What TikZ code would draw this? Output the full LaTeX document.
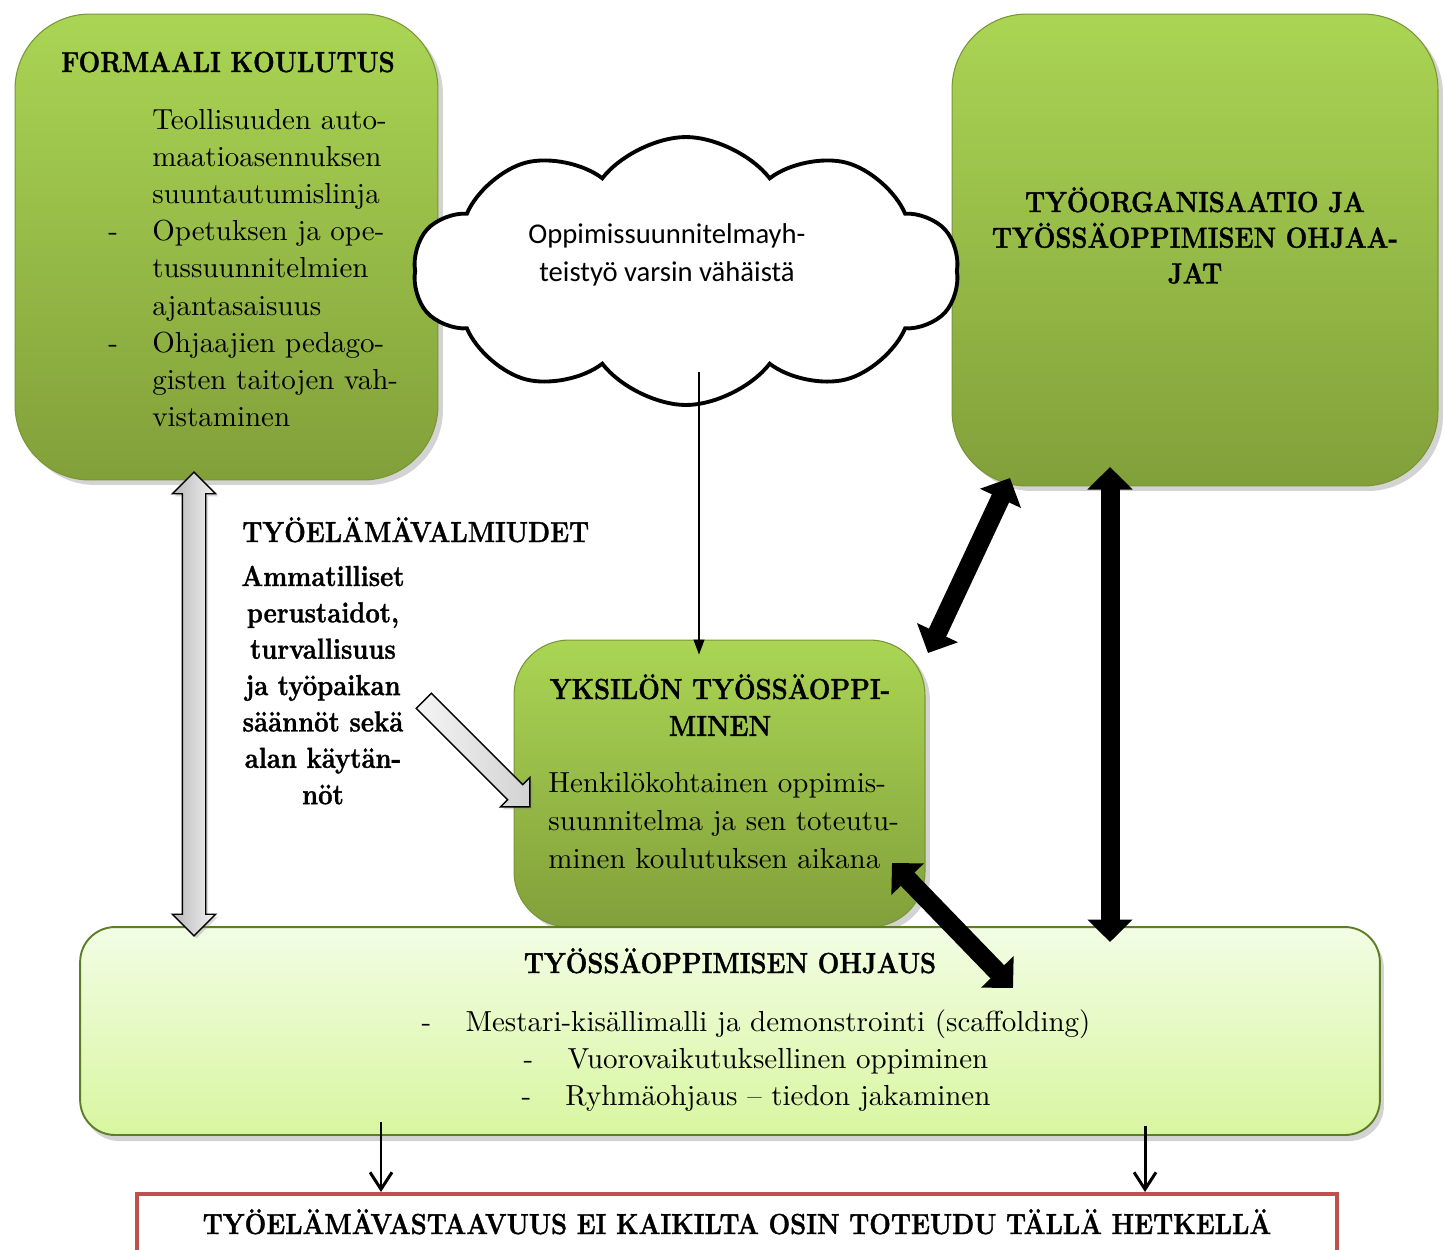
\documentclass[tikz,border=0pt]{standalone}
\usepackage{fontspec}
\setmainfont{lmroman10-regular.otf}[BoldFont=lmroman12-bold.otf, BoldFeatures={FakeStretch=0.885, FakeBold=1.2}]
\newfontfamily\cloudfont{Carlito}
\usetikzlibrary{arrows.meta,shapes.symbols,shapes.arrows,shadows,positioning}

\definecolor{boxtop}{RGB}{170,213,84}
\definecolor{boxbot}{RGB}{130,160,58}
\definecolor{boxline}{RGB}{120,150,52}
\definecolor{paletop}{RGB}{242,253,228}
\definecolor{palebot}{RGB}{216,246,160}
\definecolor{paleline}{RGB}{95,125,40}
\definecolor{redline}{RGB}{192,80,77}

\newcommand\textlines[2]{\begin{tabular}[t]{@{}#1@{}}#2\end{tabular}}

\begin{document}
\begin{tikzpicture}[x=0.02cm, y=-0.02cm, every node/.style={inner sep=0pt, font=\fontsize{16.5}{21}\selectfont},
    greenbox/.style={rounded corners=1.5cm, draw=boxline, line width=0.6pt, top color=boxtop, bottom color=boxbot,
      drop shadow={shadow xshift=0.1cm, shadow yshift=-0.1cm, opacity=0.35}},
    palebox/.style={rounded corners=0.7cm, draw=paleline, line width=1.1pt, top color=paletop, bottom color=palebot,
      drop shadow={shadow xshift=0.08cm, shadow yshift=-0.12cm, opacity=0.35}},
    heading/.style={font=\fontsize{16.5}{20.5}\selectfont\bfseries},
    bigarrow/.style={{Triangle[length=0.45cm,width=0.88cm]}-{Triangle[length=0.45cm,width=0.88cm]}, line width=0.38cm},
    barb/.style={-{Straight Barb[length=0.34cm,width=0.44cm]}, line width=1.7pt},
    greyarrow/.style={draw, line width=0.8pt, drop shadow={shadow xshift=0.05cm, shadow yshift=-0.05cm, opacity=0.3}}]
  \clip (0,0) rectangle (1446,1249);

  % Formal education
  \node[greenbox, minimum width=8.46cm, minimum height=9.32cm] (formal) at (226.5,247) {};
  \node[heading, anchor=base] at (228,72) {FORMAALI KOULUTUS};
  \node[anchor=base west, font=\fontsize{16.5}{21.2}\selectfont] at (108,129) {\textlines{p{0.88cm}@{}l}{
    & Teollisuuden auto-\\ & maatioasennuksen\\ & suuntautumislinja\\
    - & Opetuksen ja ope-\\ & tussuunnitelmien\\ & ajantasaisuus\\
    - & Ohjaajien pedago-\\ & gisten taitojen vah-\\ & vistaminen}};

  % Work organisation
  \node[greenbox, minimum width=9.72cm, minimum height=9.44cm] (workorg) at (1195,250) {};
  \node[heading, anchor=base, font=\fontsize{16.5}{20.3}\selectfont\bfseries] at (1195,212)
    {\textlines{c}{TYÖORGANISAATIO JA\\TYÖSSÄOPPIMISEN OHJAA-\\JAT}};

  % Cloud
  \node[cloud, cloud puffs=10, cloud puff arc=105, draw, line width=2.2pt, fill=white, minimum width=10.9cm, minimum height=5.36cm] (cloud) at (686,271) {};
  \node[anchor=base, font=\cloudfont\fontsize{16.3}{22}\selectfont] at (667,243)
    {\textlines{c}{Oppimissuunnitelmayh-\\teistyö varsin vähäistä}};

  % Individual learning
  \node[greenbox, rounded corners=1.1cm, minimum width=8.22cm, minimum height=5.74cm] (indiv) at (719.5,783.5) {};
  \node[heading, anchor=base, font=\fontsize{16.5}{21}\selectfont\bfseries] at (720,699)
    {\textlines{c}{YKSILÖN TYÖSSÄOPPI-\\MINEN}};
  \node[anchor=base west, font=\fontsize{16.5}{21.8}\selectfont] at (548,792)
    {\textlines{l}{Henkilökohtainen oppimis-\\suunnitelma ja sen toteutu-\\minen koulutuksen aikana}};

  % Guidance
  \node[palebox, minimum width=26cm, minimum height=4.16cm] (guidance) at (730,1031) {};
  \node[heading, anchor=base] at (730,973) {TYÖSSÄOPPIMISEN OHJAUS};
  \node[anchor=base, font=\fontsize{16.5}{21.2}\selectfont] at (756,1031)
    {\textlines{c}{\makebox[0.88cm][l]{-}Mestari-kisällimalli ja demonstrointi (scaffolding)\\
      \makebox[0.88cm][l]{-}Vuorovaikutuksellinen oppiminen\\
      \makebox[0.88cm][l]{-}Ryhmäohjaus -- tiedon jakaminen}};

  % Result
  \node[draw=redline, line width=2.2pt, fill=white, minimum width=24cm, minimum height=2cm, anchor=north] (result) at (737,1192) {};
  \node[heading, anchor=base] at (737,1234) {TYÖELÄMÄVASTAAVUUS EI KAIKILTA OSIN TOTEUDU TÄLLÄ HETKELLÄ};

  % Work readiness
  \node[heading, anchor=base west] (readiness) at (242,542) {TYÖELÄMÄVALMIUDET};
  \node[heading, anchor=base, font=\fontsize{16.5}{20.7}\selectfont\bfseries] (skills) at (323,586)
    {\textlines{c}{Ammatilliset\\perustaidot,\\turvallisuus\\ja työpaikan\\säännöt sekä\\alan käytän-\\nöt}};

  % Thin arrows
  \coordinate (ctail) at (699,372);
  \draw[line width=0.7pt, -{Triangle[length=0.3cm,width=0.22cm]}] (ctail) -- ([yshift=-0.3cm]indiv.north -| ctail);
  \coordinate (g1) at (381,1122);
  \coordinate (g2) at (1145,1126);
  \draw[barb] (g1) -- (g1 |- result.north);
  \draw[barb] (g2) -- (g2 |- result.north);

  % Grey block arrows
  \node[greyarrow, double arrow, rotate=90, inner ysep=0.22cm, minimum height=9.28cm, minimum width=0.84cm, double arrow head extend=0.2cm,
    left color=gray!55, right color=gray!10] (bridge) at (194,704) {};
  \node[greyarrow, single arrow, rotate=-45, inner ysep=0.2cm, minimum height=3cm, minimum width=0.8cm, single arrow head extend=0.2cm,
    left color=gray!8, right color=gray!35] (feed) at (473,750) {};

  % Black double arrows
  \coordinate (b1) at (928,653);
  \coordinate (b2) at (1010,478);
  \coordinate (b3) at (1110,467);
  \coordinate (b4) at (1110,942);
  \coordinate (b5) at (892,863);
  \coordinate (b6) at (1013,988);
  \draw[bigarrow] (b1) -- (b2);
  \draw[bigarrow] (b3) -- (b4);
  \draw[bigarrow] (b5) -- (b6);
\end{tikzpicture}
\end{document}
